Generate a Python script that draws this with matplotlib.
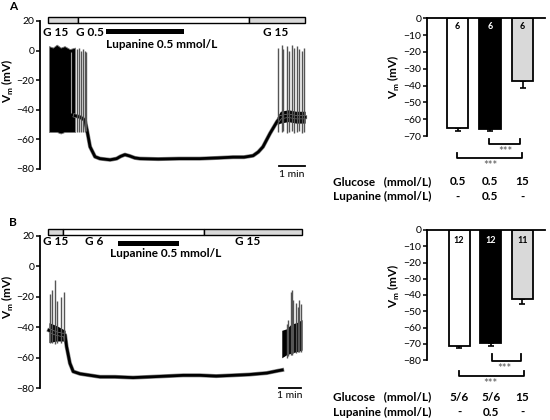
import numpy as np
import matplotlib
matplotlib.use('Agg')
import matplotlib.pyplot as plt

plt.rcParams['font.family'] = ['Lato', 'DejaVu Sans']
plt.rcParams['mathtext.fontset'] = 'custom'
plt.rcParams['mathtext.rm'] = 'Lato'
plt.rcParams['mathtext.bf'] = 'Lato:bold'

GREY = '#d9d9d9'
FS = 8.5     # bold labels
TFS = 7.5    # tick labels

# ---- panel A trace (time in min, Vm in mV) ----
a_seg_edges = [-0.04, 1.12, 7.69, 9.85]
a_seg_colors = [GREY, 'white', GREY]
a_lup = (2.19, 5.19)

a_base_t = [1.0, 1.2, 1.38, 1.46, 1.58, 1.77, 1.96, 2.35, 2.6, 2.75, 2.92, 3.1, 3.3, 3.5, 4.2,
            5.0, 5.8, 6.5, 7.08, 7.5, 7.85, 8.05, 8.23, 8.5, 8.77, 8.9, 9.2, 9.5, 9.85]
a_base_v = [-44, -45, -47, -53.6, -65, -71.7, -73, -73.8, -73, -71.5, -70.3, -71.2, -72.5, -73, -73.3,
            -73, -73, -72.5, -72, -72, -71, -68.5, -65, -56, -48, -45, -44, -45, -45]

a_dense_t = [0.0, 0.15, 0.3, 0.45, 0.6, 0.8, 1.0]
a_dense_lo = [-55, -55, -55, -56, -55, -55, -55]
a_dense_hi = [3, 2, 4, 2, 3, 1, 2]

a_spk_t = [1.08, 1.15, 1.23, 1.31, 1.38, 1.44,
           8.82, 8.95, 9.01, 9.14, 9.24, 9.33, 9.43, 9.53, 9.63, 9.72, 9.81]
a_spk_lo = [-55, -55, -55, -55, -55, -54,
            -55, -55, -54, -56, -55, -54, -56, -55, -54, -56, -55]
a_spk_hi = [1, 2, 0, 1, 0, -1,
            2, 4, 1, 3, 0, 4, 2, 3, 1, 0, 2]

# ---- panel B trace ----
b_seg_edges = [-0.05, 0.64, 7.05, 11.5]
b_seg_colors = [GREY, 'white', GREY]
b_lup = (3.14, 5.9)

b_base_t = [0.0, 0.3, 0.6, 0.73, 0.8, 0.95, 1.1, 1.41, 2.32, 3.0, 3.82, 4.6, 5.36,
            6.1, 6.86, 7.6, 8.36, 9.1, 9.9, 10.41, 10.6]
b_base_v = [-42, -44, -45, -45, -52.7, -63.6, -69, -70.5, -72.5, -72.5, -73, -72.5, -72,
            -71.5, -71.5, -72, -71.5, -71, -70, -68.5, -68]

b_band_t = [0.0, 0.35, 0.73, 10.58, 10.8, 11.0, 11.25, 11.5]
b_band_lo = [-50, -49, -49, -60, -58, -57, -56, -55]
b_band_hi = [-37, -39, -42, -42, -41, -38, -37, -35]

b_spk_t = [0.05, 0.12, 0.27, 0.38, 0.53, 0.68, 10.8, 10.88, 10.98, 11.03, 11.1, 11.23, 11.3, 11.38, 11.46]
b_spk_lo = [-50, -50, -51, -50, -50, -49, -60, -59, -58, -58, -57, -57, -56, -56, -56]
b_spk_hi = [-18, -15.6, -9, -23, -20, -16.7, -38, -35, -17, -15.6, -22, -24, -27, -22, -25]

# ---- bar charts ----
a_mean = [-65.1, -65.9, -37.3]
a_sem = [1.9, 1.1, 4.0]
a_n = ['6', '6', '6']
a_glucose = ['0.5', '0.5', '15']
a_lupanine = ['-', '0.5', '-']

b_mean = [-71.2, -69.3, -42.6]
b_sem = [1.6, 1.9, 3.1]
b_n = ['12', '12', '11']
b_glucose = ['5/6', '5/6', '15']
b_lupanine = ['-', '0.5', '-']

bar_colors = ['white', 'black', GREY]

fig = plt.figure(figsize=(5.5, 4.2), dpi=100)
W, H = 550.0, 420.0


def add_px(x0, y0, x1, y1):
    return fig.add_axes([x0 / W, 1 - y1 / H, (x1 - x0) / W, (y1 - y0) / H])


def trace_axes(ax, seg_edges, seg_colors, bar_y, lup, lup_y, base_t, base_v):
    for sp in ['top', 'right', 'bottom']:
        ax.spines[sp].set_visible(False)
    ax.spines['left'].set_bounds(-80, 20)
    ax.spines['left'].set_linewidth(1.3)
    ax.set_xticks([])
    ax.set_yticks(range(-80, 21, 20))
    ax.tick_params(axis='y', labelsize=TFS, length=3, width=1.1, pad=1.2)
    ax.set_ylabel(r'V$_\mathbf{m}$ (mV)', fontsize=FS, fontweight='bold')
    for i in range(len(seg_colors)):
        ax.barh(bar_y[0] + (bar_y[1] - bar_y[0]) / 2, seg_edges[i + 1] - seg_edges[i],
                left=seg_edges[i], height=bar_y[1] - bar_y[0], color=seg_colors[i],
                edgecolor='black', linewidth=1.0, clip_on=False)
    ax.barh(lup_y[0] + (lup_y[1] - lup_y[0]) / 2, lup[1] - lup[0], left=lup[0],
            height=lup_y[1] - lup_y[0], color='black', clip_on=False)
    ax.plot(base_t, base_v, color='#888888', lw=2.9, solid_joinstyle='round')
    ax.plot(base_t, base_v, color='black', lw=2.0, solid_joinstyle='round')


# ---------- A trace ----------
ax = add_px(40, 14, 310, 169)
ax.set_xlim(-9 / 26, 261 / 26)
ax.set_ylim(-80, 24.7)
trace_axes(ax, a_seg_edges, a_seg_colors, (18.6, 22.7), a_lup, (11.2, 14.6), a_base_t, a_base_v)
ax.fill_between(a_dense_t, a_dense_lo, a_dense_hi, color='black', lw=0.6, edgecolor='#777777')
ax.vlines(0.83, -42, -1, color='#9a9a9a', lw=0.8)
ax.vlines(a_spk_t, a_spk_lo, a_spk_hi, color='#555555', lw=1.0)
ax.fill_between([8.77, 8.9, 9.2, 9.5, 9.85], [-50, -49, -48, -49, -49],
                [-45, -41, -40, -41, -41], color='black', lw=0)
ax.text(0.27, 11.9, 'G 15', ha='center', va='center', fontsize=FS, fontweight='bold')
ax.text(1.04, 11.9, 'G 0.5', ha='left', va='center', fontsize=FS, fontweight='bold')
ax.text(2.19, 3.8, 'Lupanine 0.5 mmol/L', ha='left', va='center', fontsize=FS, fontweight='bold')
ax.text(8.23, 11.9, 'G 15', ha='left', va='center', fontsize=FS, fontweight='bold')
ax.plot([8.85, 9.85], [-78, -78], color='black', lw=1.3, clip_on=False)
ax.text(9.35, -80.5, '1 min', ha='center', va='top', fontsize=TFS)
ax.yaxis.set_label_coords(-0.09, 0.57)

# ---------- B trace ----------
ax = add_px(40, 227, 310, 388.3)
ax.set_xlim(-9 / 22, 261 / 22)
ax.set_ylim(-80, 25.7)
trace_axes(ax, b_seg_edges, b_seg_colors, (20.5, 24.4), b_lup, (13.2, 16.5), b_base_t, b_base_v)
ax.fill_between(b_band_t[:3], b_band_lo[:3], b_band_hi[:3], color='black', lw=0)
ax.fill_between(b_band_t[3:], b_band_lo[3:], b_band_hi[3:], color='black', lw=0)
ax.vlines(b_spk_t, b_spk_lo, b_spk_hi, color='#555555', lw=1.0)
ax.text(-0.27, 16, 'G 15', ha='left', va='center', fontsize=FS, fontweight='bold')
ax.text(1.64, 16, 'G 6', ha='left', va='center', fontsize=FS, fontweight='bold')
ax.text(2.77, 12, 'Lupanine 0.5 mmol/L', ha='left', va='top', fontsize=FS, fontweight='bold')
ax.text(8.45, 16, 'G 15', ha='left', va='center', fontsize=FS, fontweight='bold')
ax.plot([10.45, 11.45], [-79.8, -79.8], color='black', lw=1.3, clip_on=False)
ax.text(10.95, -82, '1 min', ha='center', va='top', fontsize=TFS)
ax.yaxis.set_label_coords(-0.09, 0.57)


def bar_axes(ax, mean, sem, n, glucose, lupanine, ymin, br1, br2, rows, n_y, lab_x):
    x = np.arange(3)
    for sp in ['right', 'bottom']:
        ax.spines[sp].set_visible(False)
    ax.spines['left'].set_linewidth(1.3)
    ax.spines['top'].set_linewidth(1.3)
    ax.set_xticks([])
    ax.set_yticks(range(ymin, 1, 10))
    ax.tick_params(axis='y', labelsize=TFS, length=3, width=1.1, pad=1.2)
    ax.set_ylabel(r'V$_\mathbf{m}$ (mV)', fontsize=FS, fontweight='bold')
    ax.errorbar(x, mean, yerr=[sem, [0, 0, 0]], fmt='none', ecolor='black',
                elinewidth=1.2, capsize=2.5, capthick=1.2, zorder=1)
    ax.bar(x, mean, width=0.66, color=bar_colors, edgecolor='black', linewidth=1.3, zorder=2)
    for i in range(3):
        ax.text(x[i], n_y, n[i], ha='center', va='center', fontsize=6.5, fontweight='bold',
                color='white' if bar_colors[i] == 'black' else 'black', zorder=3)
    for (x0, x1, yl, yt, sx, sy) in [br1, br2]:
        ax.plot([x0, x0, x1, x1], [yt, yl, yl, yt], color='black', lw=1.3, clip_on=False)
        ax.text(sx, sy, '***', ha='center', va='top', fontsize=8, color='#555555')
    ax.text(lab_x, rows[0], 'Glucose   (mmol/L)', ha='left', va='center', fontsize=FS, fontweight='bold')
    ax.text(lab_x, rows[1], 'Lupanine (mmol/L)', ha='left', va='center', fontsize=FS, fontweight='bold')
    for i in range(3):
        ax.text(x[i], rows[0], glucose[i], ha='center', va='center', fontsize=FS, fontweight='bold')
        ax.text(x[i], rows[1], lupanine[i], ha='center', va='center', fontsize=FS, fontweight='bold')


# ---------- A bars ----------
ax = add_px(427, 18.3, 545, 136)
ax.set_xlim(-0.94, 2.69)
ax.set_ylim(-70, 0)
bar_axes(ax, a_mean, a_sem, a_n, a_glucose, a_lupanine, -70,
         (0.98, 1.92, -74.8, -71.6, 1.46, -76.0), (-0.02, 1.97, -82.9, -79.9, 1.0, -84.3),
         (-97.3, -106.2), -4.6, -3.83)
ax.yaxis.set_label_coords(-0.21, 0.5)

# ---------- B bars ----------
ax = add_px(427, 230, 545, 360)
ax.set_xlim(-1.01, 2.71)
ax.set_ylim(-80, 0)
bar_axes(ax, b_mean, b_sem, b_n, b_glucose, b_lupanine, -80,
         (1.04, 1.95, -80.4, -76.3, 1.42, -81.8), (0.0, 2.05, -89.8, -86.8, 0.98, -91.2),
         (-102.8, -112.0), -6.2, -3.97)
ax.yaxis.set_label_coords(-0.21, 0.57)

fig.text(13 / W, 1 - 7 / H, 'A', ha='center', va='center', fontsize=FS, fontweight='bold')
fig.text(13 / W, 1 - 222 / H, 'B', ha='center', va='center', fontsize=FS, fontweight='bold')

fig.savefig('out.png', dpi=100)
